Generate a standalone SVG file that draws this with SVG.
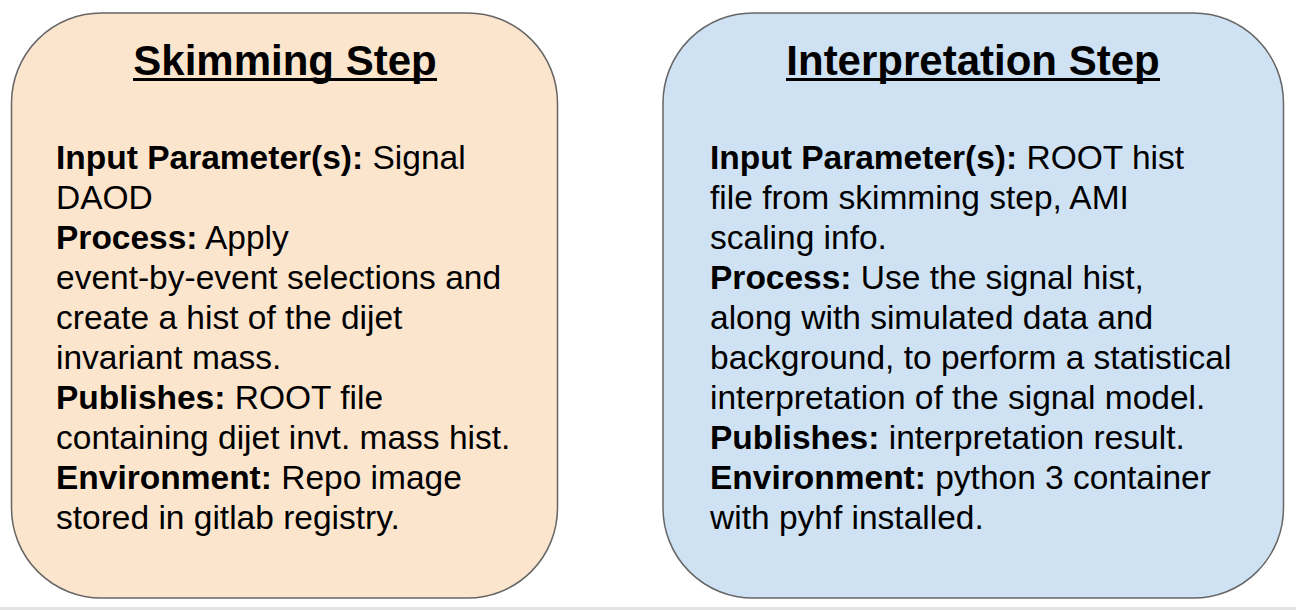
<svg xmlns="http://www.w3.org/2000/svg" width="1296" height="610" viewBox="0 0 1296 610">
<style>
.box{stroke:#666666;stroke-width:1.5}
.title{font-family:"Liberation Sans",Arial,sans-serif;font-size:42px;font-weight:bold;fill:#000;text-anchor:middle}
.body{font-family:"Liberation Sans",Arial,sans-serif;font-size:33.5px;fill:#000}
.b{font-weight:bold}
.ul{stroke:#000;stroke-width:3}
</style>
<rect x="0" y="0" width="1296" height="610" fill="#ffffff"/>
<rect x="0" y="607" width="1296" height="3" fill="#e3e3e3"/>
<g id="skimming">
<rect class="box" x="11.5" y="13" width="546" height="585" rx="90" ry="90" fill="#fce5cd"/>
<text class="title" x="285" y="75">Skimming Step</text>
<line class="ul" x1="133" y1="79.5" x2="437" y2="79.5"/>
<text class="body" x="56">
<tspan x="56" y="169"><tspan class="b">Input Parameter(s):</tspan> Signal</tspan>
<tspan x="56" y="209">DAOD</tspan>
<tspan x="56" y="249"><tspan class="b">Process:</tspan> Apply</tspan>
<tspan x="56" y="289">event-by-event selections and</tspan>
<tspan x="56" y="329">create a hist of the dijet</tspan>
<tspan x="56" y="369">invariant mass.</tspan>
<tspan x="56" y="409"><tspan class="b">Publishes:</tspan> ROOT file</tspan>
<tspan x="56" y="449">containing dijet invt. mass hist.</tspan>
<tspan x="56" y="489"><tspan class="b">Environment:</tspan> Repo image</tspan>
<tspan x="56" y="529">stored in gitlab registry.</tspan>
</text>
</g>
<g id="interpretation">
<rect class="box" x="663" y="13" width="620.5" height="585" rx="90" ry="90" fill="#cfe2f3"/>
<text class="title" x="973" y="75">Interpretation Step</text>
<line class="ul" x1="786" y1="79.5" x2="1160" y2="79.5"/>
<text class="body" x="710">
<tspan x="710" y="169"><tspan class="b">Input Parameter(s):</tspan> ROOT hist</tspan>
<tspan x="710" y="209">file from skimming step, AMI</tspan>
<tspan x="710" y="249">scaling info.</tspan>
<tspan x="710" y="289"><tspan class="b">Process:</tspan> Use the signal hist,</tspan>
<tspan x="710" y="329">along with simulated data and</tspan>
<tspan x="710" y="369">background, to perform a statistical</tspan>
<tspan x="710" y="409">interpretation of the signal model.</tspan>
<tspan x="710" y="449"><tspan class="b">Publishes:</tspan> interpretation result.</tspan>
<tspan x="710" y="489"><tspan class="b">Environment:</tspan> python 3 container</tspan>
<tspan x="710" y="529">with pyhf installed.</tspan>
</text>
</g>
<g id="connectors"></g>
</svg>
